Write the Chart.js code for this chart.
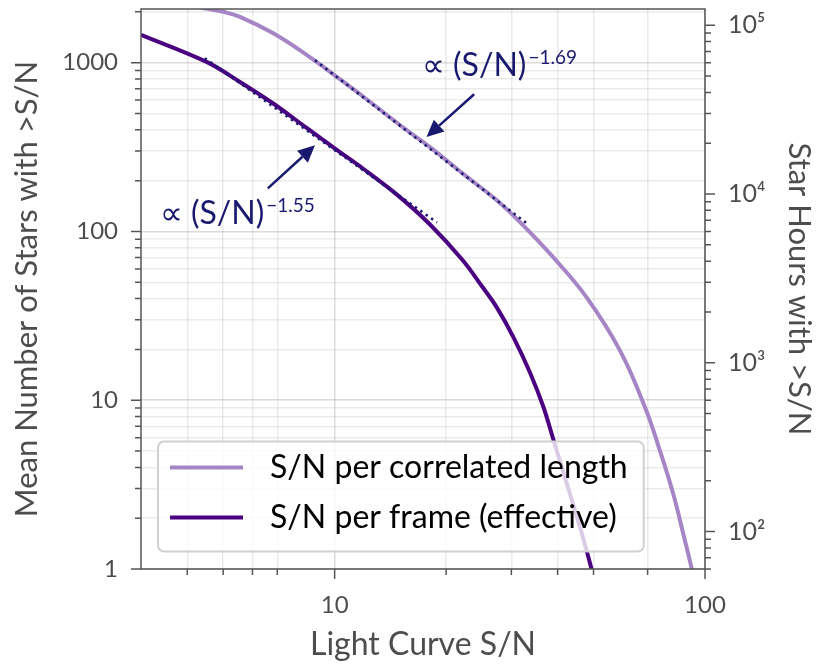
<!DOCTYPE html>
<html>
<head>
<meta charset="utf-8">
<title>Stars above S/N</title>
<script src="https://cdn.jsdelivr.net/npm/chart.js@4.4.1/dist/chart.umd.min.js"></script>
<style>
  html, body { margin: 0; padding: 0; background: #fff; }
  #box { width: 818px; height: 664px; }
</style>
</head>
<body>
<div id="box"><canvas id="chart"></canvas></div>
<script>
// S/N threshold vs mean number of stars above it
const corrSN    = [3.0, 3.6, 4.2, 4.51, 5.0, 5.55, 6.81, 8.42, 10.33, 12.2, 15.65, 18.09, 22.2, 27.4, 31.65, 38.9, 47.9, 58.96, 68.9, 75.6, 82.1, 87.4, 92.1, 94.0];
const corrStars = [2320, 2250, 2150, 2090, 2002, 1870, 1497, 1108, 798, 607, 398, 316, 220, 153, 113.6, 70.4, 40.7, 19.67, 9.06, 5.01, 2.78, 1.61, 1.0, 0.8];
const frameSN    = [3.0, 4.51, 5.55, 6.81, 8.42, 10.33, 11.92, 14.7, 18.09, 22.2, 25.1, 27.4, 30.4, 33.7, 36.6, 38.9, 42.3, 46.0, 49.4, 50.3];
const frameStars = [1464, 1011, 769, 575, 409, 295.5, 236, 165.8, 110.0, 67.3, 46.7, 35.5, 23.6, 14.56, 9.15, 5.91, 3.24, 1.76, 1.0, 0.85];

// power-law fits (end points)
const fitCorrSN = [8.85, 33.3];
const fitCorrStars = [1035, 110];
const fitFrameSN = [4.46, 18.9];
const fitFrameStars = [1063, 113];
const fitPowers = ['\u22121.69', '\u22121.55'];

const snTicks = [4, 5, 6, 7, 10, 20, 30, 40, 50, 70, 100];
const starTicks = [1, 2, 3, 4, 5, 6, 7, 8, 9, 10, 20, 30, 40, 50, 60, 70, 80, 90,
  100, 200, 300, 400, 500, 600, 700, 800, 900, 1000, 2000];
const hourTicks = [60, 70, 80, 90, 100, 200, 300, 400, 500, 600, 700, 800, 900,
  1000, 2000, 3000, 4000, 5000, 6000, 7000, 8000, 9000,
  10000, 20000, 30000, 40000, 50000, 60000, 70000, 80000, 90000, 100000];
const hoursPerStar = 60;
const starMax = 2080;

const ink = '#4d4d4d';
const navy = '#191970';
const FONT = 'Lato';
const SUP = { 2: '\u00b2', 3: '\u00b3', 4: '\u2074', 5: '\u2075' };

const pts = (xs, ys) => xs.map((x, i) => ({ x: x, y: ys[i] }));
const isDecade = v => Math.abs(Math.log10(v) - Math.round(Math.log10(v))) < 1e-9;

const notes = [
  { power: fitPowers[0], at: [17.2, 832], tail: [23.8, 650], head: [17.7, 363] },
  { power: fitPowers[1], at: [3.37, 110], tail: [6.6, 180], head: [8.85, 324] }
];

function arrow(ctx, x1, y1, x2, y2) {
  const a = Math.atan2(y2 - y1, x2 - x1), L = 17, W = 8;
  const bx = x2 - L * Math.cos(a), by = y2 - L * Math.sin(a);
  ctx.beginPath();
  ctx.moveTo(x1, y1);
  ctx.lineTo(bx, by);
  ctx.stroke();
  ctx.beginPath();
  ctx.moveTo(x2, y2);
  ctx.lineTo(bx + W * Math.sin(a), by - W * Math.cos(a));
  ctx.lineTo(bx - W * Math.sin(a), by + W * Math.cos(a));
  ctx.closePath();
  ctx.fill();
}

// keep the plot box where it is: no extra room for edge labels
function noPad(s) {
  s.paddingTop = 0; s.paddingBottom = 0;
  s.paddingLeft = 0; s.paddingRight = 0;
}

const decor = {
  id: 'decor',
  afterDatasetsDraw(chart) {
    const { ctx, chartArea: ca, scales } = chart;
    ctx.save();

    // fit labels and arrows
    ctx.fillStyle = navy;
    ctx.strokeStyle = navy;
    ctx.lineWidth = 2.5;
    notes.forEach(n => {
      const x = scales.x.getPixelForValue(n.at[0]);
      const y = scales.y.getPixelForValue(n.at[1]);
      ctx.textBaseline = 'alphabetic';
      ctx.textAlign = 'left';
      ctx.font = `32px ${FONT}`;
      ctx.fillText('\u221d (S/N)', x, y);
      const w = ctx.measureText('\u221d (S/N)').width;
      ctx.font = `19px ${FONT}`;
      ctx.fillText(n.power, x + w + 2, y - 12);
      arrow(ctx,
        scales.x.getPixelForValue(n.tail[0]), scales.y.getPixelForValue(n.tail[1]),
        scales.x.getPixelForValue(n.head[0]), scales.y.getPixelForValue(n.head[1]));
    });

    // legend
    const items = chart.data.datasets.filter(d => !d.fit);
    ctx.font = `32px ${FONT}`;
    const tw = Math.max(...items.map(d => ctx.measureText(d.label).width));
    const h = 110, w = 112 + tw + 16;
    const x0 = ca.left + 17, y0 = ca.bottom - 17.5 - h;
    ctx.beginPath();
    ctx.roundRect(x0, y0, w, h, 6);
    ctx.fillStyle = 'rgba(255,255,255,0.8)';
    ctx.fill();
    ctx.strokeStyle = '#d0d0d0';
    ctx.lineWidth = 2;
    ctx.stroke();
    items.forEach((d, i) => {
      const y = y0 + 26 + i * 50;
      ctx.strokeStyle = d.borderColor;
      ctx.lineWidth = 4;
      ctx.beginPath();
      ctx.moveTo(x0 + 12, y);
      ctx.lineTo(x0 + 85, y);
      ctx.stroke();
      ctx.fillStyle = '#000';
      ctx.textBaseline = 'middle';
      ctx.fillText(d.label, x0 + 112, y);
    });

    // frame
    ctx.strokeStyle = '#555';
    ctx.lineWidth = 1.5;
    ctx.strokeRect(ca.left, ca.top, ca.right - ca.left, ca.bottom - ca.top);
    ctx.restore();
  },
  afterDraw(chart) {
    const { ctx, chartArea: ca, scales } = chart;
    ctx.save();
    ctx.strokeStyle = '#555';
    ctx.lineWidth = 1.5;
    ctx.beginPath();
    scales.x.ticks.forEach(t => {
      const p = scales.x.getPixelForValue(t.value);
      ctx.moveTo(p, ca.bottom);
      ctx.lineTo(p, ca.bottom + (isDecade(t.value) ? 10 : 6));
    });
    scales.y.ticks.forEach(t => {
      const p = scales.y.getPixelForValue(t.value);
      ctx.moveTo(ca.left, p);
      ctx.lineTo(ca.left - (isDecade(t.value) ? 10 : 6), p);
    });
    scales.y2.ticks.forEach(t => {
      const p = scales.y2.getPixelForValue(t.value);
      ctx.moveTo(ca.right, p);
      ctx.lineTo(ca.right + (isDecade(t.value) ? 10 : 6), p);
    });
    ctx.stroke();
    ctx.restore();
  }
};

const gridColor = c => isDecade(c.tick.value) ? 'rgba(0,0,0,0.14)' : 'rgba(0,0,0,0.08)';

new Chart(document.getElementById('chart'), {
  type: 'line',
  data: {
    datasets: [{
      label: 'S/N per correlated length',
      data: pts(corrSN, corrStars),
      borderColor: '#a585c5',
      borderWidth: 4,
      pointRadius: 0,
      tension: 0.4,
      clip: 0,
      order: 2
    }, {
      label: 'S/N per frame (effective)',
      data: pts(frameSN, frameStars),
      borderColor: '#4b0082',
      borderWidth: 4,
      pointRadius: 0,
      tension: 0.35,
      clip: 0,
      order: 1
    }, {
      label: 'fit ' + fitPowers[0],
      fit: true,
      data: pts(fitCorrSN, fitCorrStars),
      borderColor: navy,
      borderWidth: 2.6,
      borderDash: [2.4, 4.2],
      pointRadius: 0,
      clip: 0,
      order: 0
    }, {
      label: 'fit ' + fitPowers[1],
      fit: true,
      data: pts(fitFrameSN, fitFrameStars),
      borderColor: navy,
      borderWidth: 2.6,
      borderDash: [2.4, 4.2],
      pointRadius: 0,
      clip: 0,
      order: 0
    }]
  },
  options: {
    responsive: true,
    maintainAspectRatio: false,
    animation: false,
    devicePixelRatio: 1,
    layout: { padding: { top: 9, left: 0, right: 0, bottom: 0 } },
    plugins: { legend: { display: false }, tooltip: { enabled: false } },
    scales: {
      x: {
        type: 'logarithmic',
        position: 'bottom',
        min: 3,
        max: 100,
        afterFit: s => { s.height = 95; noPad(s); },
        afterBuildTicks: s => { s.ticks = snTicks.map(v => ({ value: v })); },
        grid: { drawTicks: false, color: gridColor, lineWidth: 1.5 },
        border: { display: false },
        ticks: {
          autoSkip: false, maxRotation: 0, padding: 22, color: ink,
          font: { family: FONT, size: 24 },
          callback: v => isDecade(v) ? String(v) : ''
        },
        title: {
          display: true, text: 'Light Curve S/N', color: ink,
          font: { family: FONT, size: 32 }, padding: { top: 0, bottom: 0 }
        }
      },
      y: {
        type: 'logarithmic',
        position: 'left',
        min: 1,
        max: starMax,
        afterFit: s => { s.width = 141; noPad(s); },
        afterBuildTicks: s => { s.ticks = starTicks.map(v => ({ value: v })); },
        grid: { drawTicks: false, color: gridColor, lineWidth: 1.5 },
        border: { display: false },
        ticks: {
          autoSkip: false, padding: 23, color: ink,
          font: { family: FONT, size: 24 },
          callback: v => isDecade(v) ? String(v) : ''
        },
        title: {
          display: true, text: 'Mean Number of Stars with >S/N', color: ink,
          font: { family: FONT, size: 31 }, padding: { top: 8, bottom: 0 }
        }
      },
      y2: {
        type: 'logarithmic',
        position: 'right',
        min: hoursPerStar,
        max: starMax * hoursPerStar,
        afterFit: s => { s.width = 113; noPad(s); },
        afterBuildTicks: s => { s.ticks = hourTicks.map(v => ({ value: v })); },
        grid: { display: false, drawTicks: false },
        border: { display: false },
        ticks: {
          autoSkip: false, padding: 23, color: ink,
          font: { family: FONT, size: 25 },
          callback: v => isDecade(v) ? '10' + SUP[Math.round(Math.log10(v))] : ''
        },
        title: {
          display: true, text: 'Star Hours with >S/N', color: ink,
          font: { family: FONT, size: 31 }, padding: { top: 0, bottom: 0 }
        }
      }
    }
  },
  plugins: [decor]
});
</script>
</body>
</html>
